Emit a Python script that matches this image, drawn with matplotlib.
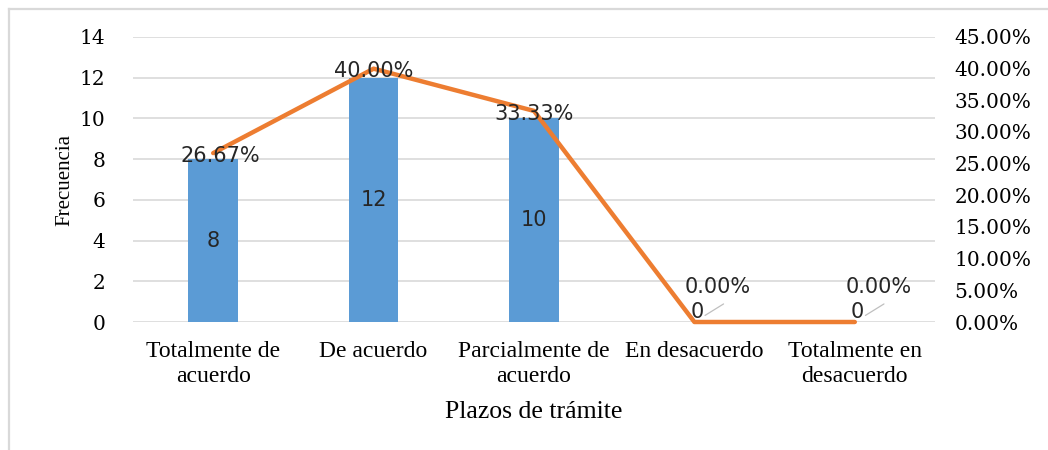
import matplotlib
matplotlib.use('Agg')
import matplotlib.pyplot as plt
from matplotlib.lines import Line2D

# data
categories = ['Totalmente de\nacuerdo', 'De acuerdo', 'Parcialmente de\nacuerdo',
              'En desacuerdo', 'Totalmente en\ndesacuerdo']
frecuencia = [8, 12, 10, 0, 0]
porcentaje = [26.67, 40.00, 33.33, 0.00, 0.00]
left_ticks = [0, 2, 4, 6, 8, 10, 12, 14]
right_ticks = [0, 5, 10, 15, 20, 25, 30, 35, 40, 45]

bar_color = '#5B9BD5'
line_color = '#ED7D31'
grid_color = '#D9D9D9'
serif = 'Liberation Serif'
num_font = 'DejaVu Serif'
lab_font = 'DejaVu Sans'

fig = plt.figure(figsize=(10.48, 4.5), dpi=100)
ax = fig.add_axes([133 / 1048, 1 - 322 / 450, 802 / 1048, 285 / 450])
ax2 = ax.twinx()

x = list(range(len(categories)))
ax.bar(x, frecuencia, width=0.31, color=bar_color, zorder=2)
ax.set_xlim(-0.5, len(categories) - 0.5)
ax.set_ylim(0, 14)
ax.set_yticks(left_ticks)
ax.set_yticklabels([str(t) for t in left_ticks], fontfamily=num_font, fontsize=14.5)
ax.yaxis.grid(True, color=grid_color, linewidth=1.2, zorder=0)
ax.set_axisbelow(True)
ax.tick_params(axis='both', length=0)
ax.tick_params(axis='y', pad=20)
ax.set_xticks(x)
ax.set_xticklabels(categories, fontfamily=serif, fontsize=17, linespacing=1.2)
ax.tick_params(axis='x', pad=14)
for s in ax.spines.values():
    s.set_visible(False)

ax.set_xlabel('Plazos de trámite', fontfamily=serif, fontsize=18.5, labelpad=10)
ax.set_ylabel('Frecuencia', fontfamily=serif, fontsize=15, labelpad=4)

# bar value labels
for xi, v in zip(x, frecuencia):
    if v > 0:
        ax.text(xi, v / 2, str(v), ha='center', va='center', fontfamily=lab_font,
                fontsize=15, color='#262626', zorder=5)

# percentage line on secondary axis
ax2.plot(x, porcentaje, color=line_color, linewidth=3.2, solid_capstyle='round',
         zorder=3, clip_on=False)
ax2.set_ylim(0, 45)
ax2.set_yticks(right_ticks)
ax2.set_yticklabels(['{:.2f}%'.format(t) for t in right_ticks], fontfamily=num_font, fontsize=14.5)
ax2.tick_params(axis='y', length=0, pad=14)
for s in ax2.spines.values():
    s.set_visible(False)

for xi, p, v in zip(x, porcentaje, frecuencia):
    if v > 0:
        dx = 5 if xi == 0 else 0
        ax2.annotate('{:.2f}%'.format(p), (xi, p), xytext=(dx, -2), textcoords='offset points',
                     ha='center', va='center', fontfamily=lab_font, fontsize=15,
                     color='#262626', zorder=6)
    else:
        ax2.annotate(str(v), (xi, p), xytext=(2, 7), textcoords='offset points',
                     ha='center', va='center', fontfamily=lab_font, fontsize=15,
                     color='#262626', zorder=6)
        ax2.annotate('{:.2f}%'.format(p), (xi, p), xytext=(17, 25), textcoords='offset points',
                     ha='center', va='center', fontfamily=lab_font, fontsize=15,
                     color='#262626', zorder=6)
        ax2.annotate('', xy=(xi, p), xytext=(21, 13), textcoords='offset points',
                     arrowprops=dict(arrowstyle='-', color='#BFBFBF', lw=0.9,
                                     shrinkA=0, shrinkB=9))

# chart border
fig.add_artist(Line2D([9 / 1048, 1.0], [1 - 9 / 450, 1 - 9 / 450], color=grid_color,
                      linewidth=1.6, transform=fig.transFigure))
fig.add_artist(Line2D([9 / 1048, 9 / 1048], [0, 1 - 9 / 450], color=grid_color,
                      linewidth=1.6, transform=fig.transFigure))

fig.savefig('out.png', dpi=100)
